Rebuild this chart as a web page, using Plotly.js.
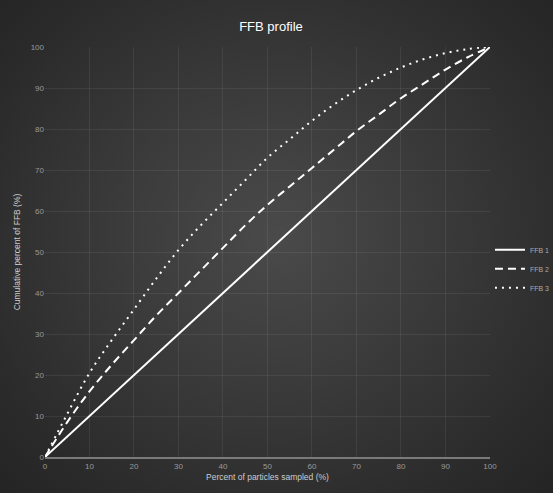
<!DOCTYPE html>
<html>
<head>
<meta charset="utf-8">
<script src="https://cdn.plot.ly/plotly-3.0.1.min.js"></script>
<style>
html,body{margin:0;padding:0;background:#262626;}
#chart{width:553px;height:493px;background:radial-gradient(ellipse at 50% 48%, #4a4a4a 0%, #3b3b3b 40%, #2b2b2b 80%, #242424 100%);}
</style>
</head>
<body>
<div id="chart"></div>
<script>
const xs = [0,5,10,15,20,25,30,35,40,45,50,55,60,65,70,75,80,85,90,95,100];
const series1 = [0,5,10,15,20,25,30,35,40,45,50,55,60,65,70,75,80,85,90,95,100];
const series2 = [0,8.5,16,22.5,28.5,34.5,40,45.5,51,56.5,61.5,66,70.5,75,79.5,83.5,87.5,91,94.5,97.5,100];
const series3 = [0,10.5,20.5,28.5,36,43.5,50.5,56.5,62,67.5,73,77.5,82,86,89.5,92.5,95,97,98.5,99.5,100];
const names = ["FFB 1","FFB 2","FFB 3"];
const titleText = "FFB profile";
const xTitle = "Percent of particles sampled (%)";
const yTitle = "Cumulative percent of FFB (%)";

const common = {mode:'lines', type:'scatter', hoverinfo:'skip'};
const data = [
  Object.assign({x:xs, y:series1, name:names[0], line:{color:'#ffffff', width:2, dash:'solid'}}, common),
  Object.assign({x:xs, y:series2, name:names[1], line:{color:'#ffffff', width:2, dash:'8px,5px', shape:'spline'}}, common),
  Object.assign({x:xs, y:series3, name:names[2], line:{color:'#ffffff', width:2, dash:'2px,5px', shape:'spline'}}, common)
];
const layout = {
  width:553, height:493,
  paper_bgcolor:'rgba(0,0,0,0)', plot_bgcolor:'rgba(0,0,0,0)',
  margin:{l:45, r:58, t:47, b:36},
  title:{text:titleText, font:{color:'#ffffff', size:13, family:'Liberation Sans, Arial'}, x:0.49, xanchor:'center', y:0.955},
  font:{family:'Liberation Sans, Arial', color:'#aaaaaa', size:8},
  xaxis:{range:[0,100], dtick:10, tick0:0, showgrid:true, gridcolor:'rgba(255,255,255,0.07)', zeroline:false,
    showline:true, linecolor:'#7a7a7a', linewidth:2, ticks:'', tickfont:{size:8, color:'#999999'},
    title:{text:xTitle, font:{size:8.5, color:'#cccccc'}, standoff:4}},
  yaxis:{range:[0,100], dtick:10, tick0:0, showgrid:true, gridcolor:'rgba(255,255,255,0.07)', zeroline:false,
    showline:false, ticks:'', tickfont:{size:8, color:'#999999'},
    title:{text:yTitle, font:{size:8.5, color:'#cccccc'}, standoff:8}},
  legend:{xref:'container', x:0.886, xanchor:'left', yref:'paper', y:0.459, yanchor:'middle', bgcolor:'rgba(0,0,0,0)', font:{size:7, color:'#aaaaaa'}, itemwidth:30, tracegroupgap:2},
  showlegend:true
};
Plotly.newPlot('chart', data, layout, {displayModeBar:false, staticPlot:true});
</script>
</body>
</html>
